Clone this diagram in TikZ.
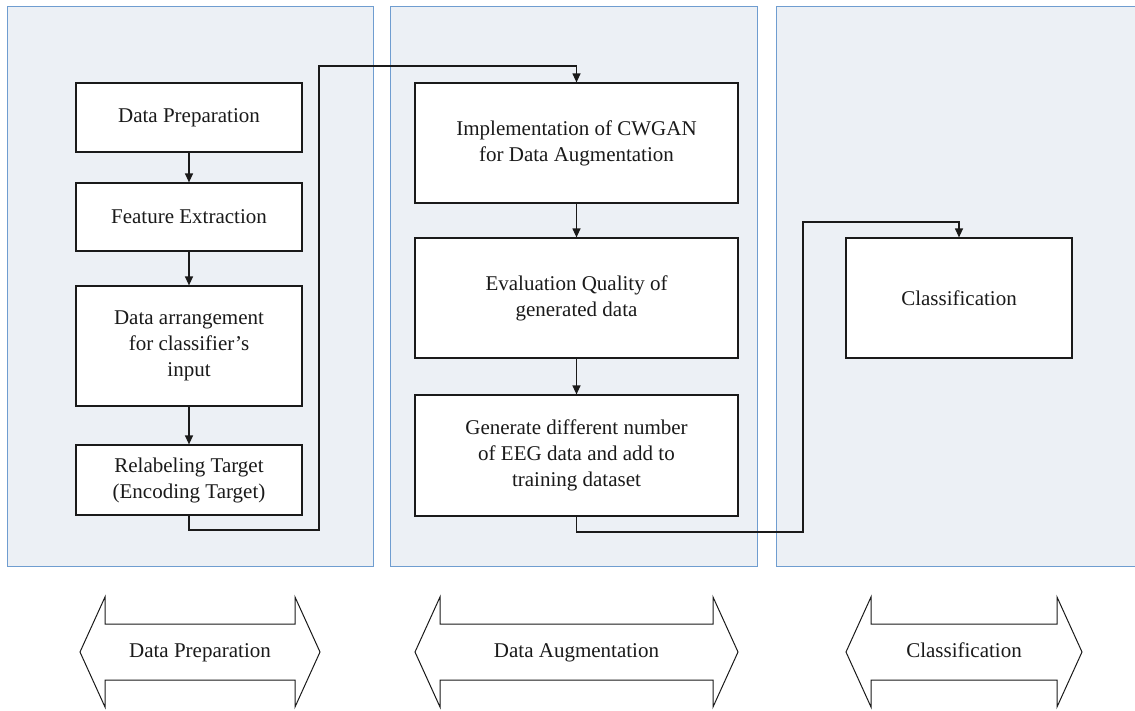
\documentclass[tikz,border=0pt]{standalone}
\usepackage{fontspec}
\setmainfont{Liberation Serif}
\usetikzlibrary{arrows.meta}
\definecolor{panelfill}{HTML}{ECF0F5}
\definecolor{panelline}{HTML}{6F9DD0}
\definecolor{ink}{HTML}{1A1A1A}
\begin{document}
\begin{tikzpicture}[x=1pt,y=-1pt,
  panel/.style={draw=panelline,fill=panelfill,line width=1pt},
  box/.style={draw=ink,fill=white,line width=1.2pt,align=center,inner sep=2pt,
    font=\fontsize{21}{26}\selectfont,text=ink},
  conn/.style={draw=ink,line width=1.2pt,-{Triangle[length=9pt,width=8pt]}},
  bigarrow/.style={draw=ink,fill=white,line width=1pt},
  lbl/.style={font=\fontsize{21}{26}\selectfont,text=ink,anchor=base}
]
\useasboundingbox (0,0) rectangle (1135,710);
\fill[white] (0,0) rectangle (1135,710);
% panels
\draw[panel] (7,6) rectangle (373,566);
\draw[panel] (390,6) rectangle (757,566);
\draw[panel] (776,6) rectangle (1145,566);
% panel 1 boxes
\node[box,minimum width=226,minimum height=69] (dp) at (189,117.5) {Data Preparation};
\node[box,minimum width=226,minimum height=68] (fe) at (189,217) {Feature Extraction};
\node[box,minimum width=226,minimum height=120] (da) at (189,346) {Data arrangement\\for classifier's\\input};
\node[box,minimum width=226,minimum height=70] (rt) at (189,480) {Relabeling Target\\(Encoding Target)};
% panel 2 boxes
\node[box,minimum width=323,minimum height=120] (im) at (576.5,143) {Implementation of CWGAN\\for Data Augmentation};
\node[box,minimum width=323,minimum height=120] (ev) at (576.5,298) {Evaluation Quality of\\generated data};
\node[box,minimum width=323,minimum height=121] (ge) at (576.5,455.5) {Generate different number\\of EEG data and add to\\training dataset};
% panel 3 box
\node[box,minimum width=226,minimum height=120] (cl) at (959,298) {Classification};
% connectors
\draw[conn] (dp) -- (fe);
\draw[conn] (fe) -- (da);
\draw[conn] (da) -- (rt);
\coordinate (c1) at (319,530);
\coordinate (c2) at (319,66);
\draw[conn] (rt.south) |- (c1) -- (c2) -| (im.north);
\draw[conn] (im) -- (ev);
\draw[conn] (ev) -- (ge);
\coordinate (c3) at (803,532);
\coordinate (c4) at (803,222);
\draw[conn] (ge.south) |- (c3) -- (c4) -| (cl.north);
% bottom double arrows
\draw[bigarrow] (80,652) -- (105,597) -- (105,624) -- (295,624) -- (295,597) -- (320,652)
  -- (295,707) -- (295,680) -- (105,680) -- (105,707) -- cycle;
\node[lbl] (l1) at (200,657) {Data Preparation};
\draw[bigarrow] (415,652) -- (440,597) -- (440,624) -- (713,624) -- (713,597) -- (738,652)
  -- (713,707) -- (713,680) -- (440,680) -- (440,707) -- cycle;
\node[lbl] (l2) at (576.5,657) {Data Augmentation};
\draw[bigarrow] (846,652) -- (871,597) -- (871,624) -- (1057,624) -- (1057,597) -- (1082,652)
  -- (1057,707) -- (1057,680) -- (871,680) -- (871,707) -- cycle;
\node[lbl] (l3) at (964,657) {Classification};
\end{tikzpicture}
\end{document}
